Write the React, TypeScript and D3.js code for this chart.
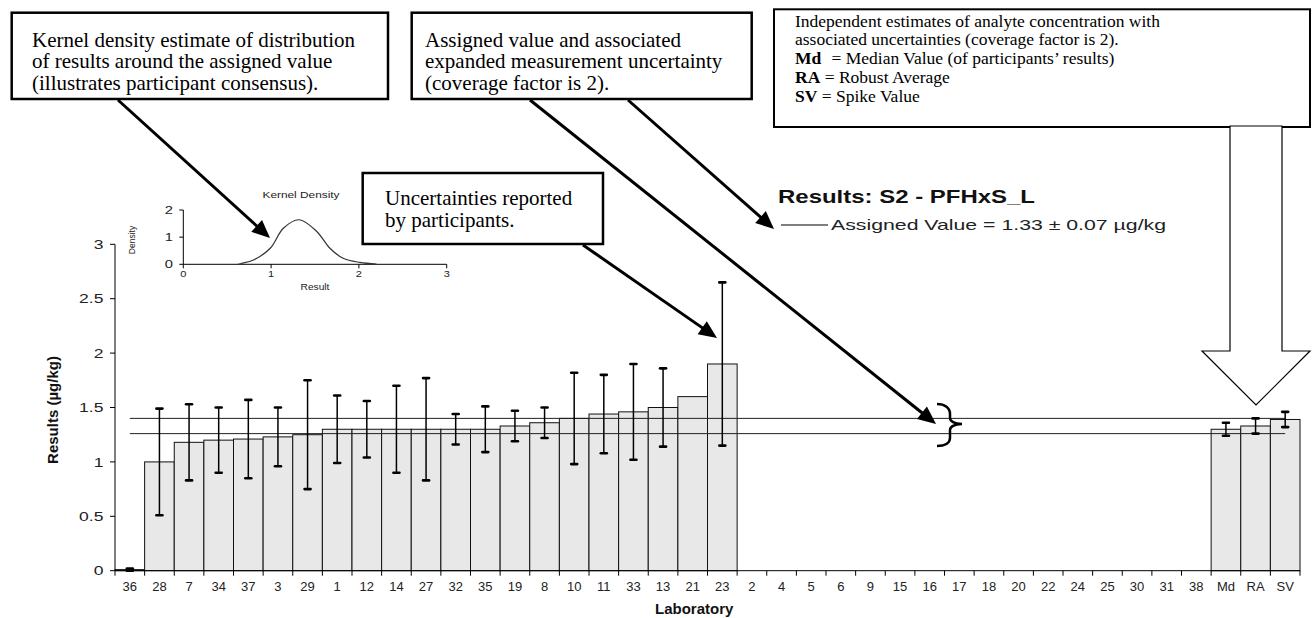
import React from "react";
import * as d3 from "d3";

const labs = ["36","28","7","34","37","3","29","1","12","14","27","32","35","19","8","10","11","33","13","21","23","2","4","5","6","9","15","16","17","18","20","22","24","25","30","31","38","Md","RA","SV"];
const results: (number | null)[] = [0.01,1.0,1.18,1.2,1.21,1.23,1.25,1.3,1.3,1.3,1.3,1.3,1.3,1.33,1.36,1.4,1.44,1.46,1.5,1.6,1.9,null,null,null,null,null,null,null,null,null,null,null,null,null,null,null,null,1.3,1.33,1.39];
const uncertainties: (number | null)[] = [0.01,0.49,0.35,0.3,0.36,0.27,0.5,0.31,0.26,0.4,0.47,0.14,0.21,0.14,0.14,0.42,0.36,0.44,0.36,null,0.75,null,null,null,null,null,null,null,null,null,null,null,null,null,null,null,null,0.06,0.07,0.07];
const assignedValue = 1.33;
const assignedUnc = 0.07;
const yTicks = [0, 0.5, 1, 1.5, 2, 2.5, 3];
const kdeX = [0.62, 0.66, 0.8, 0.99, 1.14, 1.32, 1.52, 1.67, 1.82, 2.01, 2.2];
const kdeY = [0, 0.03, 0.16, 0.59, 1.33, 1.64, 1.21, 0.59, 0.22, 0.07, 0.01];
const kdeXTicks = [0, 1, 2, 3];
const kdeYTicks = [0, 1, 2];

const SANS = '"Liberation Sans", Arial, sans-serif';
const SERIF = '"Liberation Serif", "Times New Roman", serif';

function ST({ x, y, sx = 1, anchor = "start", size, weight = "normal", fill = "#000", family = SANS, rotate = 0, children }: any) {
  return (
    <text
      transform={`translate(${x},${y}) rotate(${rotate}) scale(${sx},1)`}
      textAnchor={anchor}
      fontSize={size}
      fontWeight={weight}
      fill={fill}
      fontFamily={family}
    >
      {children}
    </text>
  );
}

function Arrow({ x1, y1, x2, y2 }: any) {
  const dx = x2 - x1, dy = y2 - y1;
  const len = Math.hypot(dx, dy);
  const ux = dx / len, uy = dy / len;
  const hl = 18, hw = 8;
  const bx = x2 - ux * hl, by = y2 - uy * hl;
  const px = -uy, py = ux;
  return (
    <g>
      <line x1={x1} y1={y1} x2={bx + ux * 2} y2={by + uy * 2} stroke="#000" strokeWidth={3} />
      <polygon points={`${x2},${y2} ${bx + px * hw},${by + py * hw} ${bx - px * hw},${by - py * hw}`} fill="#000" />
    </g>
  );
}

export default function App() {
  const x = d3.scaleBand<string>().domain(labs).range([115, 1300]).padding(0);
  const y = d3.scaleLinear().domain([0, 3]).range([570.7, 244.3]);
  const bw = x.bandwidth();
  const ix = d3.scaleLinear().domain([0, 3]).range([183.3, 446.7]);
  const iy = d3.scaleLinear().domain([0, 2]).range([264.3, 210]);
  const kdeLine = d3.line<number>().x((d, i) => ix(kdeX[i])).y((d) => iy(d)).curve(d3.curveCatmullRom);
  const xFirst = (x(labs[0]) as number) + bw / 2;
  const xLast = (x(labs[labs.length - 1]) as number) + bw / 2;
  const boundaries = labs.map((l) => x(l) as number).concat([1300]);

  return (
    <svg width={1312} height={618} style={{ position: "absolute", left: 0, top: 0, display: "block", background: "#fff" }}>
      <rect x={0} y={0} width={1312} height={618} fill="#fff" />

      {/* bars */}
      {labs.map((l, i) =>
        results[i] == null ? null : (
          <rect key={"b" + l} x={x(l)} y={y(results[i] as number)} width={bw} height={y(0) - y(results[i] as number)} fill="#e8e8e8" stroke="#111" strokeWidth={1} />
        )
      )}

      {/* assigned value lines */}
      {[assignedValue + assignedUnc, assignedValue - assignedUnc].map((v, i) => (
        <line key={"av" + i} x1={xFirst} x2={xLast} y1={y(v)} y2={y(v)} stroke="#222" strokeWidth={1} />
      ))}

      {/* error bars */}
      {labs.map((l, i) => {
        const v = results[i], u = uncertainties[i];
        if (v == null || u == null) return null;
        const cx = (x(l) as number) + bw / 2;
        return (
          <g key={"e" + l}>
            <line x1={cx} x2={cx} y1={y(v + u)} y2={y(Math.max(0, v - u))} stroke="#000" strokeWidth={1.5} />
            <line x1={cx - 3} x2={cx + 3} y1={y(v + u)} y2={y(v + u)} stroke="#000" strokeWidth={2.6} strokeLinecap="round" />
            <line x1={cx - 3} x2={cx + 3} y1={y(Math.max(0, v - u))} y2={y(Math.max(0, v - u))} stroke="#000" strokeWidth={2.6} strokeLinecap="round" />
          </g>
        );
      })}

      {/* axes */}
      <line x1={115} x2={115} y1={y(3)} y2={y(0)} stroke="#000" strokeWidth={1} />
      <line x1={115} x2={1300} y1={y(0)} y2={y(0)} stroke="#000" strokeWidth={1} />
      {yTicks.map((t) => (
        <g key={"yt" + t}>
          <line x1={110} x2={115} y1={y(t)} y2={y(t)} stroke="#000" />
          <ST x={103.5} y={y(t) + 4.7} sx={1.35} anchor="end" size={13} fill="#222">{String(t)}</ST>
        </g>
      ))}
      {boundaries.map((b, i) => (
        <line key={"xt" + i} x1={b} x2={b} y1={y(0)} y2={y(0) + 5} stroke="#000" />
      ))}
      {labs.map((l) => (
        <ST key={"xl" + l} x={(x(l) as number) + bw / 2} y={590.5} anchor="middle" size={13} fill="#222">{l}</ST>
      ))}
      <ST x={58} y={410} rotate={-90} anchor="middle" size={15} weight="bold" fill="#111">Results (µg/kg)</ST>
      <ST x={655} y={614} size={15} weight="bold" fill="#111">Laboratory</ST>

      {/* title and legend */}
      <text x={778} y={203} fontFamily={SANS} fontSize={19} fontWeight="bold" fill="#111" textLength={257} lengthAdjust="spacingAndGlyphs">Results: S2 - PFHxS_L</text>
      <line x1={781} x2={828} y1={225} y2={225} stroke="#000" strokeWidth={1.2} />
      <text x={831} y={230} fontFamily={SANS} fontSize={15} fill="#222" textLength={335} lengthAdjust="spacingAndGlyphs">Assigned Value = 1.33 ± 0.07 µg/kg</text>

      {/* kernel density inset */}
      <text x={301} y={198} textAnchor="middle" fontFamily={SANS} fontSize={9.5} fill="#222" textLength={77} lengthAdjust="spacingAndGlyphs">Kernel Density</text>
      <line x1={ix(0)} x2={ix(0)} y1={iy(2)} y2={iy(0)} stroke="#000" />
      <line x1={ix(0)} x2={ix(3)} y1={iy(0)} y2={iy(0)} stroke="#000" />
      {kdeYTicks.map((t) => (
        <g key={"kyt" + t}>
          <line x1={ix(0) - 4} x2={ix(0)} y1={iy(t)} y2={iy(t)} stroke="#000" />
          <ST x={173} y={iy(t) + 3.8} sx={1.4} anchor="end" size={10.5} fill="#222">{String(t)}</ST>
        </g>
      ))}
      {kdeXTicks.map((t) => (
        <g key={"kxt" + t}>
          <line x1={ix(t)} x2={ix(t)} y1={iy(0)} y2={iy(0) + 4} stroke="#000" />
          <ST x={ix(t)} y={277} sx={1.3} anchor="middle" size={8.5} fill="#222">{String(t)}</ST>
        </g>
      ))}
      <ST x={315} y={290} sx={1.2} anchor="middle" size={8.5} fill="#222">Result</ST>
      <ST x={135} y={240} rotate={-90} anchor="middle" size={8.5} fill="#222">Density</ST>
      <path d={kdeLine(kdeY) as string} fill="none" stroke="#333" strokeWidth={1.2} />

      {/* callout boxes */}
      <rect x={11.7} y={12.7} width={376.3} height={86.3} fill="#fff" stroke="#000" strokeWidth={2.5} />
      <text fontFamily={SERIF} fontSize={21} fill="#000">
        <tspan x={32} y={46.7}>Kernel density estimate of distribution</tspan>
        <tspan x={32} y={68.3}>of results around the assigned value</tspan>
        <tspan x={32} y={89.5}>(illustrates participant consensus).</tspan>
      </text>

      <rect x={411.7} y={12.7} width={340} height={86.3} fill="#fff" stroke="#000" strokeWidth={2.5} />
      <text fontFamily={SERIF} fontSize={21} fill="#000">
        <tspan x={425} y={46.7}>Assigned value and associated</tspan>
        <tspan x={425} y={68.3}>expanded measurement uncertainty</tspan>
        <tspan x={425} y={89.5}>(coverage factor is 2).</tspan>
      </text>

      <rect x={362.7} y={173} width={240.3} height={71} fill="#fff" stroke="#000" strokeWidth={2.5} />
      <text fontFamily={SERIF} fontSize={21} fill="#000">
        <tspan x={385} y={205}>Uncertainties reported</tspan>
        <tspan x={385} y={226.7}>by participants.</tspan>
      </text>

      <rect x={774} y={9.3} width={536} height={117.7} fill="#fff" stroke="#000" strokeWidth={2} />
      <text fontFamily={SERIF} fontSize={17.5} fill="#000">
        <tspan x={795} y={26.7}>Independent estimates of analyte concentration with</tspan>
        <tspan x={795} y={45.4}>associated uncertainties (coverage factor is 2).</tspan>
      </text>
      <text fontFamily={SERIF} fontSize={17.5} fill="#000" y={64.2}>
        <tspan x={795} fontWeight="bold">Md</tspan>
        <tspan x={831.5}>= Median Value (of participants’ results)</tspan>
      </text>
      <text fontFamily={SERIF} fontSize={17.5} fill="#000" y={82.9}>
        <tspan x={795} fontWeight="bold">RA</tspan>
        <tspan> = Robust Average</tspan>
      </text>
      <text fontFamily={SERIF} fontSize={17.5} fill="#000" y={101.7}>
        <tspan x={795} fontWeight="bold">SV</tspan>
        <tspan> = Spike Value</tspan>
      </text>

      {/* big hollow arrow */}
      <polygon points="1230,126 1230,351 1202,351 1256,405 1310,351 1282,351 1282,126" fill="#fff" stroke="#000" strokeWidth={1.2} />

      {/* arrows */}
      <Arrow x1={118} y1={100} x2={270} y2={238} />
      <Arrow x1={530} y1={100} x2={936} y2={424} />
      <Arrow x1={628} y1={100} x2={774} y2={229} />
      <Arrow x1={583} y1={245} x2={717} y2={338} />

      {/* brace */}
      <path d="M937,404 C945,404 950,408 950,414 L950,418 C950,421 954,424 962,424 C954,424 950,427 950,430 L950,438 C950,443 945,446 937,446" fill="none" stroke="#000" strokeWidth={2.5} />
    </svg>
  );
}
